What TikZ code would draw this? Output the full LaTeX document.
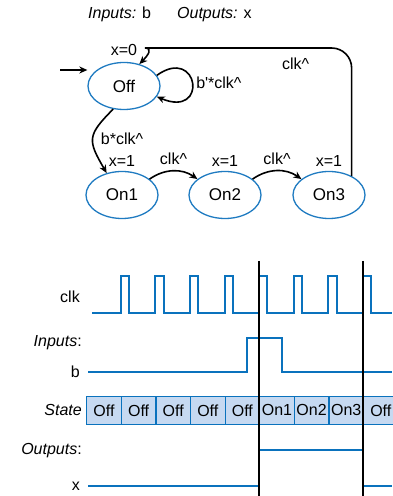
\documentclass[tikz,border=0pt]{standalone}
\usepackage{fontspec}
\setmainfont{Liberation Sans}
\usetikzlibrary{shapes.geometric, arrows.meta, positioning, calc}
\definecolor{fsmblue}{HTML}{1F7BC1}
\definecolor{wireblue}{HTML}{0A72BD}
\definecolor{cellfill}{HTML}{C6D9F1}

\begin{document}
\begin{tikzpicture}[x=1pt, y=1pt, font=\fontsize{16}{19}\selectfont,
  fsm/.style={ellipse, draw=fsmblue, line width=1.3pt, minimum width=72pt, minimum height=47pt, inner sep=0pt, font=\fontsize{17}{20}\selectfont},
  arr/.style={line width=1.6pt, -{Stealth[length=8pt,width=7pt]}},
  wave/.style={wireblue, line width=2pt},
  cell/.style={draw=wireblue, fill=cellfill, line width=1.2pt, minimum width=34.6pt, minimum height=28pt, inner sep=0pt},
  label distance=1pt]
  \useasboundingbox (0,0) rectangle (392,496);

  \node[anchor=base west, inner sep=0pt] (inputs) at (88,477) {\textit{Inputs:} b};
  \node[anchor=base west, inner sep=0pt] (outputs) at (177,477) {\textit{Outputs:} x};

  % FSM states
  \node[fsm, label={[label distance=3pt]above:x=0}] (Off) at (124,410) {Off};
  \node[fsm, label={above:x=1}] (On1) at (122,301) {On1};
  \node[fsm, label={above:x=1}] (On2) at (225,301) {On2};
  \node[fsm, label={above:x=1}] (On3) at (329,301) {On3};

  % transitions
  \coordinate (entry) at (60,426);
  \draw[arr] (entry) -- (entry -| Off.west);
  \draw[arr] (Off.18) .. controls +(42,30) and +(52,-22) .. node[right] {b\textquotesingle*clk\textasciicircum} (Off.-18);
  \draw[arr] (Off.245) to[out=225,in=120,looseness=1.5] node[right, xshift=4pt] {b*clk\textasciicircum} (On1.125);
  \draw[arr] (On1.30) to[bend left=35] node[above=2pt] {clk\textasciicircum} (On2.150);
  \draw[arr] (On2.30) to[bend left=35] node[above=2pt] {clk\textasciicircum} (On3.150);
  \coordinate (topl) at (165,448);
  \draw[arr, rounded corners=20] (On3.40) |- node[pos=0.65, below=6pt] {clk\textasciicircum} (topl) to[out=180,in=45] (Off.55);

  % timing diagram
  \node[anchor=east] (clklbl) at (83.3,199) {clk};
  \node[anchor=east] (inlbl) at (85.3,153) {\textit{Inputs}:};
  \node[anchor=east] (blbl) at (83.3,124) {b};
  \node[anchor=east] (statelbl) at (85.3,86) {\textit{State}};
  \node[anchor=east] (outlbl) at (85.3,45) {\textit{Outputs}:};
  \node[anchor=east] (xlbl) at (83.3,10) {x};

  \draw[wave] (92,183) foreach \k in {0,...,7} { -- ({120.7+34.6*\k},183) -- ++(0,37) -- ++(8.3,0) -- ++(0,-37) } -- (392,183);
  \draw[wave] (88,124) -- (247,124) -- (247,158) -- (282,158) -- (282,124) -- (392,124);

  \foreach \s [count=\i from 0] in {Off,Off,Off,Off,Off,On1,On2,On3,Off}
    \node[cell, anchor=south west] (s\i) at ({86.1+34.6*\i},71) {\s};

  \draw[wave] (88,10) -- (259.1,10) -- (259.1,46) -- (362.9,46) -- (362.9,10) -- (392,10);

  % clock edges
  \foreach \t in {259.1,362.9}
    \draw[line width=1.6pt] (\t,235) -- (\t,0);
\end{tikzpicture}
\end{document}
